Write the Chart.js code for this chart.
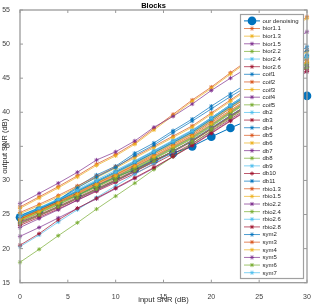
<!DOCTYPE html>
<html>
<head>
<meta charset="utf-8">
<script src="https://cdn.jsdelivr.net/npm/chart.js@4.4.1/dist/chart.umd.min.js"></script>
<style>
  body { margin: 0; background: #fff; }
  canvas { display: block; }
</style>
</head>
<body>
<canvas id="chart" width="314" height="304"></canvas>
<script>
// x values (input SNR in dB)
const inputSNR = [0, 2, 4, 6, 8, 10, 12, 14, 16, 18, 20, 22, 24, 26, 28, 30];

// output SNR per method
const ours    = [24.6, 25.6, 26.8, 27.8, 29.2, 30.5, 31.6, 33.0, 34.0, 35.0, 36.4, 37.7, 38.9, 40.1, 41.2, 42.4];
const bior1_1 = [26.1, 27.6, 29.1, 30.7, 32.4, 33.8, 35.5, 37.6, 39.7, 41.8, 43.7, 45.8, 47.8, 49.9, 51.9, 54.0];
const bior1_3 = [25.9, 27.4, 28.9, 30.5, 32.2, 33.6, 35.3, 37.4, 39.5, 41.6, 43.5, 45.6, 47.6, 49.7, 51.7, 53.8];
const bior1_5 = [26.6, 28.1, 29.6, 31.2, 33.0, 34.2, 35.8, 37.8, 39.4, 41.2, 43.2, 45.0, 46.7, 48.4, 50.1, 51.8];
const bior2_2 = [24.0, 25.2, 26.4, 27.7, 29.0, 30.3, 31.7, 33.1, 34.6, 36.1, 37.9, 39.8, 41.6, 43.4, 45.2, 47.0];
const bior2_4 = [24.9, 26.0, 27.2, 28.5, 29.9, 31.2, 32.6, 34.0, 35.5, 36.9, 38.7, 40.6, 42.4, 44.2, 46.0, 47.8];
const bior2_6 = [23.6, 24.8, 26.0, 27.3, 28.6, 29.9, 31.3, 32.7, 34.2, 35.7, 37.5, 39.3, 41.1, 42.9, 44.7, 46.5];
const coif1   = [24.7, 25.9, 27.1, 28.5, 29.9, 31.3, 32.8, 34.3, 35.8, 37.3, 39.2, 41.1, 42.9, 44.7, 46.5, 48.3];
const coif2   = [24.4, 25.6, 26.9, 28.2, 29.6, 30.9, 32.3, 33.8, 35.3, 36.8, 38.7, 40.6, 42.4, 44.2, 46.0, 47.9];
const coif3   = [24.5, 25.7, 27.0, 28.3, 29.7, 31.0, 32.4, 33.9, 35.4, 36.9, 38.8, 40.7, 42.5, 44.3, 46.1, 48.0];
const coif4   = [24.3, 25.5, 26.7, 28.0, 29.3, 30.6, 32.0, 33.4, 34.9, 36.4, 38.2, 40.1, 41.9, 43.7, 45.5, 47.3];
const coif5   = [24.2, 25.4, 26.6, 27.9, 29.2, 30.5, 31.9, 33.3, 34.8, 36.3, 38.1, 40.0, 41.8, 43.6, 45.4, 47.2];
const db2     = [24.8, 26.0, 27.3, 28.7, 30.1, 31.5, 32.9, 34.4, 35.9, 37.4, 39.2, 41.1, 42.9, 44.7, 46.6, 48.5];
const db3     = [23.9, 25.0, 26.2, 27.5, 28.8, 30.1, 31.5, 32.9, 34.3, 35.8, 37.6, 39.5, 41.3, 43.1, 44.9, 46.8];
const db4     = [24.8, 25.9, 27.1, 29.1, 30.8, 32.1, 34.0, 35.5, 37.3, 39.0, 40.9, 42.7, 44.4, 46.1, 47.8, 49.6];
const db5     = [24.5, 25.7, 27.0, 28.4, 29.8, 31.2, 32.6, 34.1, 35.6, 37.1, 39.0, 40.9, 42.7, 44.5, 46.4, 48.2];
const db6     = [24.4, 25.6, 26.9, 28.3, 29.7, 31.1, 32.5, 34.0, 35.5, 37.0, 38.9, 40.8, 42.6, 44.4, 46.3, 48.1];
const db7     = [23.8, 24.9, 26.1, 27.4, 28.7, 30.0, 31.4, 32.8, 34.3, 35.8, 37.6, 39.4, 41.2, 43.0, 44.8, 46.6];
const db8     = [24.1, 25.3, 26.5, 27.8, 29.1, 30.4, 31.8, 33.2, 34.7, 36.2, 38.0, 39.9, 41.7, 43.5, 45.3, 47.1];
const db9     = [24.6, 25.8, 27.1, 28.4, 29.8, 31.1, 32.5, 34.0, 35.5, 37.0, 38.9, 40.8, 42.6, 44.4, 46.2, 48.0];
const db10    = [23.4, 24.6, 25.8, 27.1, 28.4, 29.7, 31.0, 32.4, 33.9, 35.4, 37.2, 39.0, 40.8, 42.6, 44.4, 46.2];
const db11    = [24.6, 25.8, 27.0, 28.4, 29.8, 31.2, 32.6, 34.1, 35.6, 37.1, 39.0, 40.9, 42.7, 44.6, 46.4, 48.3];
const rbio1_3 = [25.3, 26.5, 27.8, 29.2, 30.6, 32.0, 33.5, 35.0, 36.5, 38.0, 39.9, 41.8, 43.7, 45.5, 47.3, 49.1];
const rbio1_5 = [25.1, 26.3, 27.6, 29.0, 30.4, 31.8, 33.3, 34.8, 36.3, 37.8, 39.7, 41.6, 43.5, 45.3, 47.1, 48.9];
const rbio2_2 = [21.8, 23.1, 24.5, 25.9, 27.3, 28.8, 30.3, 31.8, 33.5, 35.2, 37.0, 38.8, 40.6, 42.4, 44.2, 46.0];
const rbio2_4 = [18.0, 19.9, 21.9, 23.8, 25.8, 27.7, 29.6, 31.6, 33.5, 35.4, 37.3, 39.2, 41.0, 42.8, 44.7, 46.6];
const rbio2_6 = [20.3, 22.0, 23.9, 25.7, 27.5, 29.2, 30.9, 32.5, 34.2, 35.9, 37.7, 39.5, 41.3, 43.1, 44.9, 46.7];
const rbio2_8 = [20.5, 22.2, 24.2, 25.9, 27.4, 28.9, 30.4, 31.9, 33.5, 35.1, 36.9, 38.7, 40.5, 42.3, 44.1, 46.0];
const sym2    = [24.8, 25.9, 27.1, 28.9, 30.5, 31.9, 33.7, 35.2, 37.0, 38.7, 40.5, 42.3, 44.0, 45.7, 47.4, 49.1];
const sym3    = [24.3, 25.5, 26.8, 28.1, 29.5, 30.8, 32.2, 33.6, 35.1, 36.6, 38.5, 40.3, 42.1, 43.9, 45.7, 47.5];
const sym4    = [24.2, 25.4, 26.7, 28.0, 29.4, 30.7, 32.1, 33.5, 35.0, 36.5, 38.3, 40.2, 42.0, 43.8, 45.6, 47.4];
const sym5    = [23.1, 24.4, 25.7, 27.1, 28.5, 29.9, 31.3, 32.8, 34.3, 35.9, 37.7, 39.5, 41.3, 43.1, 44.9, 46.7];
const sym6    = [23.7, 24.9, 26.1, 27.4, 28.7, 30.0, 31.4, 32.8, 34.3, 35.8, 37.6, 39.4, 41.2, 43.0, 44.8, 46.6];
const sym7    = [24.7, 25.9, 27.2, 28.5, 29.9, 31.2, 32.7, 34.2, 35.7, 37.2, 39.1, 41.0, 42.8, 44.6, 46.4, 48.2];

const seriesNames = ['our denoising', 'bior1.1', 'bior1.3', 'bior1.5', 'bior2.2', 'bior2.4', 'bior2.6',
  'coif1', 'coif2', 'coif3', 'coif4', 'coif5', 'db2', 'db3', 'db4', 'db5', 'db6', 'db7', 'db8', 'db9',
  'db10', 'db11', 'rbio1.3', 'rbio1.5', 'rbio2.2', 'rbio2.4', 'rbio2.6', 'rbio2.8',
  'sym2', 'sym3', 'sym4', 'sym5', 'sym6', 'sym7'];
const seriesValues = [ours, bior1_1, bior1_3, bior1_5, bior2_2, bior2_4, bior2_6,
  coif1, coif2, coif3, coif4, coif5, db2, db3, db4, db5, db6, db7, db8, db9,
  db10, db11, rbio1_3, rbio1_5, rbio2_2, rbio2_4, rbio2_6, rbio2_8,
  sym2, sym3, sym4, sym5, sym6, sym7];

const xTicks = [0, 5, 10, 15, 20, 25, 30];
const yTicks = [15, 20, 25, 30, 35, 40, 45, 50, 55];

// matlab default line colours
const palette = ['#0072BD', '#D95319', '#EDB120', '#7E2F8E', '#77AC30', '#4DBEEE', '#A2142F'];
const FONT = 'Liberation Sans, Arial, sans-serif';

const datasets = seriesValues.map((vals, i) => {
    const c = palette[i % palette.length];
    const big = i === 0;
    return {
        label: seriesNames[i],
        data: vals.map((v, k) => ({ x: inputSNR[k], y: v })),
        borderColor: c,
        backgroundColor: c,
        borderWidth: big ? 1 : 0.7,
        pointStyle: big ? 'circle' : 'star',
        pointRadius: big ? 4.3 : 2.1,
        pointBorderWidth: big ? 0 : 0.8,
        pointBorderColor: c,
        pointBackgroundColor: c,
        order: seriesValues.length - i,   // later series on top, like matlab
        clip: 6
    };
});

// box, inward ticks and legend drawn matlab style
const matlabAxes = {
    id: 'matlabAxes',
    afterDraw(chart) {
        const ctx = chart.ctx;
        const a = chart.chartArea;
        const xs = chart.scales.x, ys = chart.scales.y;
        ctx.save();
        ctx.strokeStyle = '#9a9a9a';
        ctx.lineWidth = 1.3;
        ctx.strokeRect(a.left, a.top, a.right - a.left, a.bottom - a.top);
        ctx.lineWidth = 1;
        const tl = 3;
        ctx.beginPath();
        xTicks.forEach(t => {
            const px = xs.getPixelForValue(t);
            ctx.moveTo(px, a.bottom); ctx.lineTo(px, a.bottom - tl);
            ctx.moveTo(px, a.top); ctx.lineTo(px, a.top + tl);
        });
        yTicks.forEach(t => {
            const py = ys.getPixelForValue(t);
            ctx.moveTo(a.left, py); ctx.lineTo(a.left + tl, py);
            ctx.moveTo(a.right, py); ctx.lineTo(a.right - tl, py);
        });
        ctx.stroke();

        // legend
        const lx = 240.5, ly = 14.5, lw = 63, lh = 264;
        ctx.fillStyle = '#fff';
        ctx.fillRect(lx, ly, lw, lh);
        ctx.strokeStyle = '#a0a0a0';
        ctx.lineWidth = 1.2;
        ctx.strokeRect(lx, ly, lw, lh);
        ctx.font = '6px ' + FONT;
        ctx.textBaseline = 'middle';
        seriesNames.forEach((name, i) => {
            const y = 20.9 + 7.63 * i;
            const c = palette[i % palette.length];
            ctx.strokeStyle = c;
            ctx.fillStyle = c;
            ctx.lineWidth = i === 0 ? 1 : 0.7;
            ctx.beginPath();
            ctx.moveTo(244, y); ctx.lineTo(260, y);
            ctx.stroke();
            ctx.lineWidth = 0.8;
            Chart.helpers.drawPoint(ctx, {
                pointStyle: i === 0 ? 'circle' : 'star',
                radius: i === 0 ? 4.3 : 2.1,
                rotation: 0,
                borderWidth: i === 0 ? 0 : 0.8
            }, 252, y);
            ctx.fillStyle = '#262626';
            ctx.fillText(name, 262.5, y + 0.3);
        });
        ctx.restore();
    }
};

new Chart(document.getElementById('chart'), {
    type: 'line',
    data: { datasets: datasets },
    options: {
        responsive: false,
        animation: false,
        events: [],
        layout: { padding: { left: 0, right: 7, top: 0, bottom: 0 } },
        plugins: {
            legend: { display: false },
            tooltip: { enabled: false },
            title: {
                display: true,
                text: 'Blocks',
                color: '#000',
                font: { family: FONT, size: 7.5, weight: 'bold' },
                padding: { top: 1, bottom: 0 }
            }
        },
        scales: {
            x: {
                type: 'linear',
                min: 0, max: 30,
                afterBuildTicks: s => { s.ticks = xTicks.map(v => ({ value: v })); },
                afterFit: s => { s.height = 21.3; },
                ticks: { color: '#404040', font: { family: FONT, size: 7 }, padding: 2, maxRotation: 0 },
                grid: { display: false },
                border: { display: false },
                title: { display: true, text: 'input SNR (dB)', color: '#262626',
                         font: { family: FONT, size: 7.5 }, padding: { top: 2, bottom: 0 } }
            },
            y: {
                type: 'linear',
                min: 15, max: 55,
                afterBuildTicks: s => { s.ticks = yTicks.map(v => ({ value: v })); },
                afterFit: s => { s.width = 20; },
                ticks: { color: '#404040', font: { family: FONT, size: 7 }, padding: 2 },
                grid: { display: false },
                border: { display: false },
                title: { display: true, text: 'output SNR (dB)', color: '#262626',
                         font: { family: FONT, size: 7.5 }, padding: { top: 0, bottom: 1 } }
            }
        }
    },
    plugins: [matlabAxes]
});
</script>
</body>
</html>
